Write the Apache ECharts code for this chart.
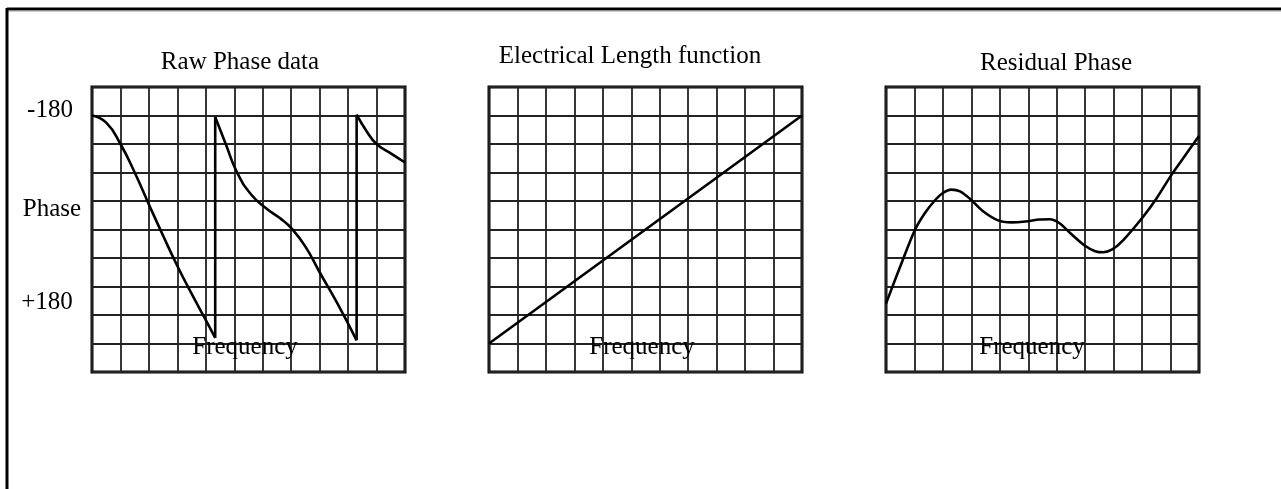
<!DOCTYPE html>
<html>
<head>
<meta charset="utf-8">
<script src="https://cdn.jsdelivr.net/npm/echarts@6/dist/echarts.min.js"></script>
<style>
html,body{margin:0;padding:0;background:#fff;}
#chart{width:1281px;height:489px;}
</style>
</head>
<body>
<div id="chart"></div>
<script>
// ---- data (x: frequency grid units 0..11, y: grid units from top 0..10) ----
const panelTitles = ['Raw Phase data', 'Electrical Length function', 'Residual Phase'];
const xAxisName = 'Frequency';
const yLabels = ['-180', 'Phase', '+180'];

const rawSeg1 = [[0,1.0],[0.5,1.25],[1.0,2.0],[1.5,3.0],[2.0,4.12],[2.5,5.22],[3.0,6.28],[3.5,7.25],[4.0,8.18],[4.33,8.8]];
const rawSeg2 = [[4.33,1.05],[4.7,2.0],[5.1,3.0],[5.6,3.78],[6.14,4.27],[6.6,4.6],[7.02,4.97],[7.5,5.6],[8.0,6.5],[8.6,7.55],[9.3,8.89]];
const rawSeg3 = [[9.3,0.97],[9.65,1.55],[10.0,2.0],[10.5,2.33],[11,2.65]];

const elecLength = [[0,9.0],[11,1.0]];

const residualX = [0,0.5,1.0,1.35,1.7,2.0,2.3,2.6,2.95,3.4,3.94,4.4,4.9,5.4,5.75,6.1,6.5,6.98,7.35,7.63,7.95,8.33,9.03,9.5,10.02,10.5,11];
const residualY = [7.6,6.3,5.05,4.45,4.0,3.72,3.6,3.66,3.92,4.35,4.68,4.75,4.72,4.65,4.64,4.78,5.15,5.56,5.76,5.8,5.7,5.38,4.56,3.92,3.1,2.42,1.72];

// ---- chart ----
const FONT = '"Liberation Serif", "DejaVu Serif", serif';
const gridLefts = [92, 489, 886];
const gridTop = 87, gridW = 313, gridH = 285;

const chart = echarts.init(document.getElementById('chart'));

const grids = gridLefts.map(l => ({
  left: l, top: gridTop, width: gridW, height: gridH,
  show: true, borderColor: '#000', borderWidth: 3, backgroundColor: 'transparent'
}));
const xAxes = gridLefts.map((l, i) => ({
  type: 'value', gridIndex: i, min: 0, max: 11, interval: 1,
  axisLine: {show: false}, axisTick: {show: false}, axisLabel: {show: false},
  splitLine: {show: true, lineStyle: {color: '#222', width: 1.8}}
}));
const yAxes = gridLefts.map((l, i) => ({
  type: 'value', gridIndex: i, min: 0, max: 10, interval: 1, inverse: true,
  axisLine: {show: false}, axisTick: {show: false}, axisLabel: {show: false},
  splitLine: {show: true, lineStyle: {color: '#222', width: 1.8}}
}));

function lineSeries(data, gi, smooth) {
  return {
    type: 'line', xAxisIndex: gi, yAxisIndex: gi, data: data,
    smooth: smooth, showSymbol: false, symbol: 'none', silent: true,
    lineStyle: {color: '#000', width: 2.6}, z: 5
  };
}
const jump1 = [rawSeg1[rawSeg1.length - 1], rawSeg2[0]];
const jump2 = [rawSeg2[rawSeg2.length - 1], rawSeg3[0]];
const residual = residualX.map((x, i) => [x, residualY[i]]);

const series = [
  lineSeries(rawSeg1, 0, 0.5),
  lineSeries(jump1, 0, false),
  lineSeries(rawSeg2, 0, 0.5),
  lineSeries(jump2, 0, false),
  lineSeries(rawSeg3, 0, 0.5),
  lineSeries(elecLength, 1, false),
  lineSeries(residual, 2, 0.3)
];

function txt(text, x, y) {
  return {type: 'text', x: x, y: y, z: 10, silent: true,
    style: {text: text, font: '25px ' + FONT, fill: '#000', align: 'center', verticalAlign: 'middle'}};
}
const titlePos = [[240, 62], [630, 56], [1056, 63]];
const freqX = [245, 642, 1032];
const graphics = [
  {type: 'line', shape: {x1: 7, y1: 9, x2: 1281, y2: 9}, style: {stroke: '#000', lineWidth: 3}, silent: true},
  {type: 'line', shape: {x1: 7, y1: 11, x2: 1281, y2: 11}, style: {stroke: '#999', lineWidth: 1}, silent: true},
  {type: 'line', shape: {x1: 7, y1: 8, x2: 7, y2: 489}, style: {stroke: '#000', lineWidth: 3}, silent: true}
];
panelTitles.forEach((t, i) => graphics.push(txt(t, titlePos[i][0], titlePos[i][1])));
freqX.forEach(x => graphics.push(txt(xAxisName, x, 347)));
graphics.push(txt(yLabels[0], 50, 110));
graphics.push(txt(yLabels[1], 52, 209));
graphics.push(txt(yLabels[2], 47, 302));

chart.setOption({
  animation: false,
  backgroundColor: '#fff',
  grid: grids, xAxis: xAxes, yAxis: yAxes, series: series,
  graphic: graphics
});
</script>
</body>
</html>
